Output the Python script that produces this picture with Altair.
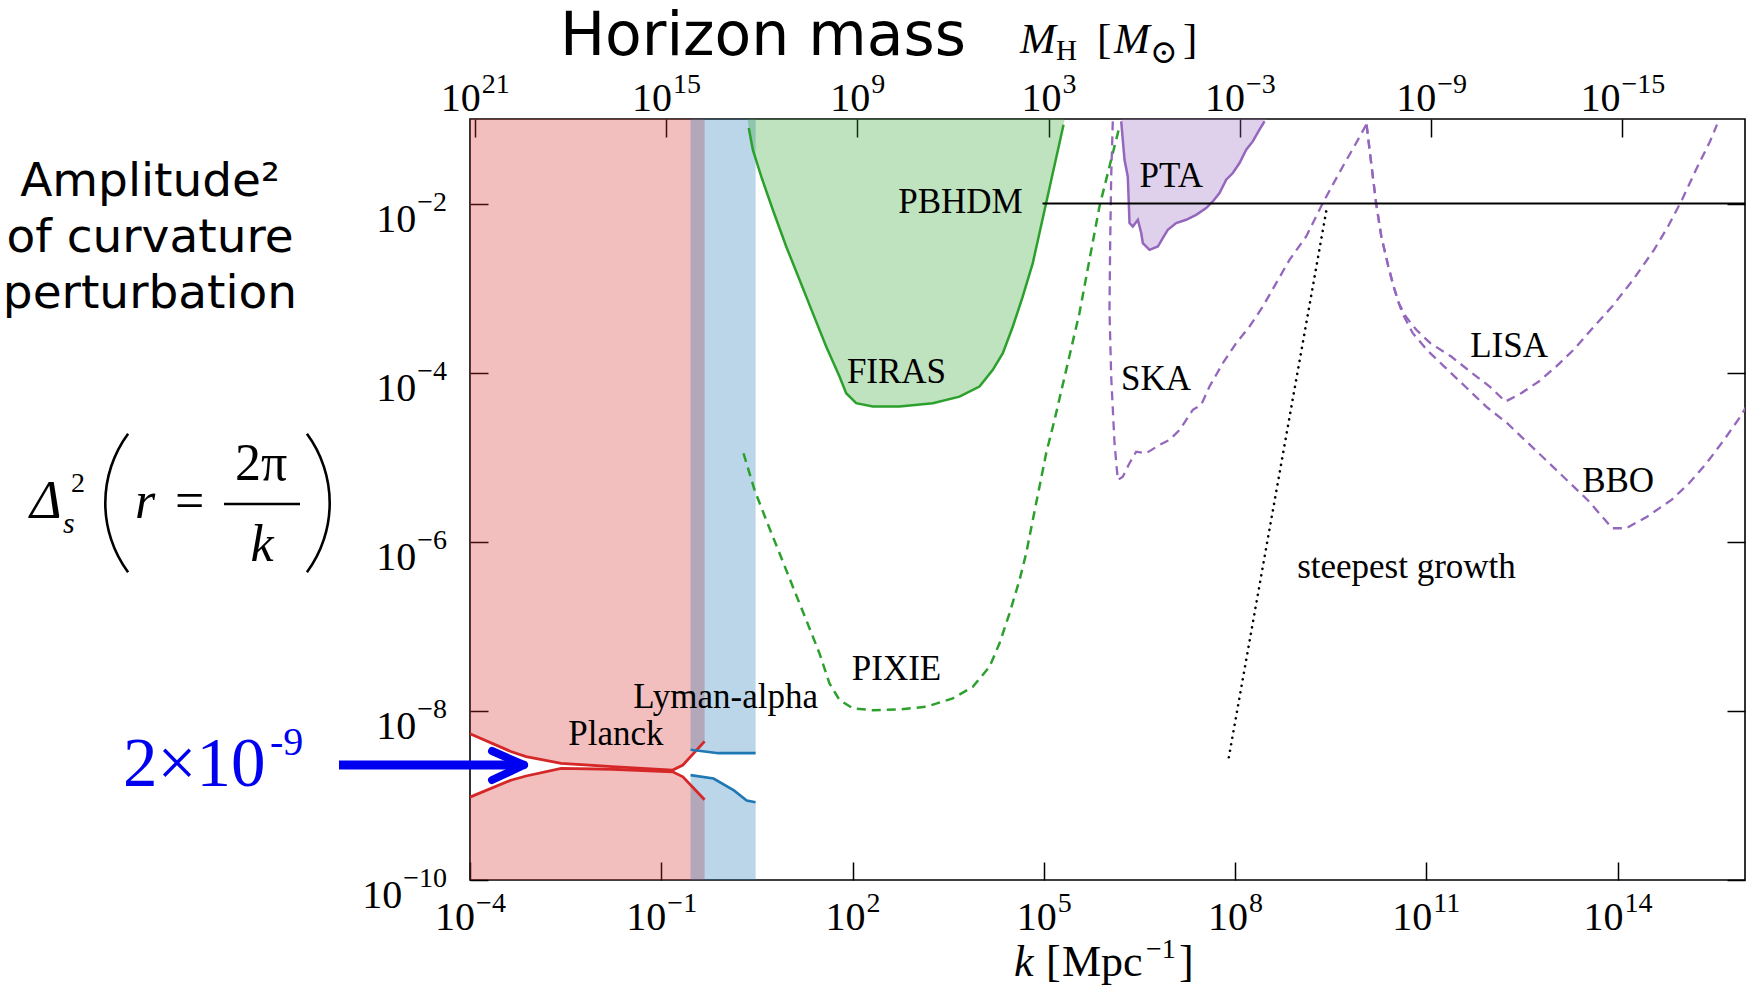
import altair as alt
import numpy as np
import pandas as pd

# ---------------- axes ----------------
K_DOMAIN = [1e-4, 1e16]
Y_DOMAIN = [1e-10, 1e-1]
M_DOMAIN = [10 ** 21.15, 10 ** -18.85]          # horizon mass at the k-domain ends
k_tick_exp = [-4, -1, 2, 5, 8, 11, 14]
y_tick_exp = [-10, -8, -6, -4, -2]
m_tick_exp = [21, 15, 9, 3, -3, -9, -15]

# ---------------- data (log10 k, log10 amplitude) ----------------
planck_logk = [-4.0, -3.36, -3.12, -2.57, -1.77, -0.82, -0.66, -0.32]
planck_upper = [-8.27, -8.48, -8.54, -8.62, -8.66, -8.70, -8.64, -8.36]
planck_lower = [-9.02, -8.82, -8.77, -8.68, -8.69, -8.72, -8.78, -9.05]

lya_up_logk = [-0.54, -0.10, 0.48]
lya_upper = [-8.46, -8.50, -8.50]
lya_lo_logk = [-0.54, -0.18, 0.14, 0.34, 0.48]
lya_lower = [-8.76, -8.80, -8.94, -9.06, -9.08]

firas_logk = [0.355, 0.373, 0.436, 0.568, 0.750, 0.960, 1.169, 1.377, 1.587, 1.796, 1.901,
              2.058, 2.319, 2.737, 3.260, 3.678, 3.992, 4.201, 4.358, 4.515, 4.671, 4.828,
              4.933, 5.038, 5.142, 5.247, 5.310, 5.33]
firas_y = [-1.0, -1.107, -1.363, -1.679, -2.073, -2.508, -2.902, -3.296, -3.691, -4.046, -4.243,
           -4.361, -4.401, -4.401, -4.361, -4.283, -4.164, -3.967, -3.769, -3.454, -3.099, -2.704,
           -2.349, -1.994, -1.639, -1.284, -1.067, -1.0]

pixie_logk = [0.290, 0.463, 0.646, 0.855, 1.064, 1.274, 1.482, 1.639, 1.796, 2.005, 2.319,
              2.737, 3.156, 3.573, 3.887, 4.149, 4.306, 4.463, 4.620, 4.725, 4.828, 4.933,
              5.038, 5.169, 5.561, 5.874, 6.188]
pixie_y = [-4.953, -5.387, -5.742, -6.136, -6.531, -6.925, -7.320, -7.675, -7.872, -7.970, -7.991,
           -7.982, -7.951, -7.852, -7.715, -7.478, -7.201, -6.846, -6.452, -6.136, -5.742, -5.348,
           -4.953, -4.559, -3.292, -2.034, -1.088]

pta_logk = [6.21, 6.215, 6.267, 6.318, 6.334, 6.345, 6.397, 6.476, 6.529, 6.554, 6.659, 6.790,
            6.867, 6.946, 7.077, 7.234, 7.391, 7.548, 7.652, 7.757, 7.862, 7.966, 8.071, 8.176,
            8.279, 8.384, 8.463, 8.49]
pta_y = [-1.0, -1.028, -1.482, -1.679, -1.994, -2.231, -2.271, -2.192, -2.349, -2.467, -2.547,
         -2.508, -2.408, -2.310, -2.231, -2.192, -2.133, -2.053, -1.975, -1.876, -1.718, -1.639,
         -1.521, -1.363, -1.265, -1.127, -1.028, -1.0]

ska_logk = [6.083, 6.058, 6.042, 6.031, 6.058, 6.110, 6.162, 6.240, 6.345, 6.450, 6.607, 6.816,
            6.973, 7.130, 7.338, 7.470, 7.600, 7.809, 8.019, 8.227, 8.436, 8.646, 8.855, 9.117,
            9.377, 9.691, 9.901, 10.058]
ska_y = [-1.028, -1.679, -2.467, -3.257, -4.046, -4.834, -5.269, -5.230, -5.071, -4.934, -4.953,
         -4.854, -4.795, -4.677, -4.440, -4.381, -4.164, -3.888, -3.651, -3.454, -3.218, -2.941,
         -2.665, -2.389, -1.994, -1.561, -1.284, -1.067]

lisa_logk = [10.064, 10.130, 10.213, 10.295, 10.405, 10.488, 10.570, 10.679, 10.844, 11.064,
             11.392, 11.721, 11.995, 12.242, 12.489, 12.764, 13.037, 13.311, 13.586, 13.915,
             14.244, 14.573, 14.792, 15.012, 15.231, 15.451, 15.561]
lisa_y = [-1.067, -1.482, -1.994, -2.389, -2.744, -2.981, -3.178, -3.336, -3.493, -3.651,
          -3.809, -4.006, -4.164, -4.342, -4.243, -4.105, -3.928, -3.730, -3.493, -3.218,
          -2.902, -2.547, -2.271, -1.955, -1.600, -1.265, -1.067]

bbo_logk = [10.064, 10.130, 10.213, 10.295, 10.405, 10.488, 10.570, 10.624, 10.789, 11.009,
            11.283, 11.611, 11.940, 12.270, 12.599, 12.929, 13.257, 13.531, 13.806, 13.915,
            14.135, 14.464, 14.847, 15.122, 15.395, 15.671, 15.891, 16.04]
bbo_y = [-1.067, -1.482, -1.994, -2.389, -2.744, -2.981, -3.178, -3.296, -3.533, -3.730,
         -3.928, -4.164, -4.401, -4.598, -4.834, -5.071, -5.308, -5.505, -5.742, -5.840,
         -5.840, -5.703, -5.505, -5.308, -5.071, -4.795, -4.559, -4.381]

steep_logk = [9.431, 7.903]
steep_y = [-2.093, -8.550]

pbhdm_logk = [4.98, 16.0]
pbhdm_y = [-2.0, -2.0]

# annotation labels inside the plot (log10 k, log10 y, text)
labels_center = [
    (2.69, -3.99, "FIRAS"), (2.69, -7.50, "PIXIE"), (0.01, -7.83, "Lyman-alpha"),
    (-1.71, -8.27, "Planck"), (7.00, -1.68, "PTA"), (6.76, -4.07, "SKA"),
    (12.30, -3.69, "LISA"), (14.01, -5.28, "BBO"), (10.69, -6.30, "steepest growth"),
]
labels_right = [(4.67, -1.98, "PBHDM")]

# ---------------- helpers ----------------
SERIF = "Liberation Serif"
SANS = "DejaVu Sans"
W, H = 1275, 761
FS_BASE, FS_EXP = 40, 28


def exp_text(e):
    return str(e).replace("-", "−")


def exp_width(e):
    return sum(0.564 * FS_EXP if c == "−" else 0.5 * FS_EXP for c in exp_text(e))


def curve(logk, logy):
    return pd.DataFrame({"k": np.power(10.0, logk), "y": np.power(10.0, logy),
                         "i": np.arange(len(logk))})


xs = alt.Scale(type="log", domain=K_DOMAIN, nice=False)
ys = alt.Scale(type="log", domain=Y_DOMAIN, nice=False)
ms = alt.Scale(type="log", domain=M_DOMAIN, nice=False)

axis_common = dict(grid=False, domain=False, tickSize=18, offset=-18, tickColor="black",
                   tickWidth=1.5, labels=False, title=None)

ax_x = alt.Axis(values=[10.0 ** e for e in k_tick_exp], **axis_common)
ax_y = alt.Axis(values=[10.0 ** e for e in y_tick_exp], **axis_common)


def XK(field="k"):
    return alt.X(f"{field}:Q", scale=xs, axis=ax_x)


def YK(field="y"):
    return alt.Y(f"{field}:Q", scale=ys, axis=ax_y)


layers = []

# ----- filled exclusion regions -----
def band_area(logk, logy, edge, color):
    d = curve(logk, logy)
    d["edge"] = edge
    return alt.Chart(d).mark_area(color=color, opacity=0.3, clip=True).encode(
        x=XK(), y=YK(), y2="edge:Q")

layers.append(band_area(planck_logk, planck_upper, 1e-1, "#d62728"))
layers.append(band_area(planck_logk, planck_lower, 1e-10, "#d62728"))
layers.append(band_area(lya_up_logk, lya_upper, 1e-1, "#1f77b4"))
layers.append(band_area(lya_lo_logk, lya_lower, 1e-10, "#1f77b4"))
layers.append(band_area(firas_logk, firas_y, 1e-1, "#2ca02c"))
layers.append(band_area(pta_logk, pta_y, 1e-1, "#9467bd"))


def line(logk, logy, color, width=2.2, dash=None, cap="butt"):
    kw = dict(color=color, strokeWidth=width, clip=True, strokeCap=cap)
    if dash:
        kw["strokeDash"] = dash
    return alt.Chart(curve(logk, logy)).mark_line(**kw).encode(
        x=XK(), y=YK(), order="i:Q")

layers.append(line(planck_logk, planck_upper, "#d62728", 2.8))
layers.append(line(planck_logk, planck_lower, "#d62728", 2.8))
layers.append(line(lya_up_logk, lya_upper, "#1f77b4", 2.6))
layers.append(line(lya_lo_logk, lya_lower, "#1f77b4", 2.6))
layers.append(line(firas_logk[1:-1], firas_y[1:-1], "#2ca02c", 2.5))
layers.append(line(pta_logk[1:-1], pta_y[1:-1], "#9467bd", 2.5))
layers.append(line(pixie_logk, pixie_y, "#2ca02c", 2.5, [9, 6]))
layers.append(line(ska_logk, ska_y, "#9467bd", 2.3, [9, 6]))
layers.append(line(lisa_logk, lisa_y, "#9467bd", 2.3, [9, 6]))
layers.append(line(bbo_logk, bbo_y, "#9467bd", 2.3, [9, 6]))
layers.append(line(steep_logk, steep_y, "black", 2.6, [0.1, 6.5], "round"))
layers.append(line(pbhdm_logk, pbhdm_y, "black", 2.0))

# ----- in-plot labels -----
lc = pd.DataFrame([{"k": 10 ** a, "y": 10 ** b, "t": t} for a, b, t in labels_center])
layers.append(alt.Chart(lc).mark_text(font=SERIF, fontSize=35, align="center",
                                      baseline="middle", color="black").encode(
    x=XK(), y=YK(), text="t:N"))
lr = pd.DataFrame([{"k": 10 ** a, "y": 10 ** b, "t": t} for a, b, t in labels_right])
layers.append(alt.Chart(lr).mark_text(font=SERIF, fontSize=35, align="right",
                                      baseline="middle", color="black").encode(
    x=XK(), y=YK(), text="t:N"))

# ----- tick labels "10" + exponent -----
for e in k_tick_exp:
    d = pd.DataFrame({"k": [10.0 ** e]})
    shift = (FS_BASE - exp_width(e)) / 2
    layers.append(alt.Chart(d).mark_text(font=SERIF, fontSize=FS_BASE, align="right",
                                         dx=shift, color="black").encode(
        x=XK(), y=alt.value(H + 38), text=alt.value("10")))
    layers.append(alt.Chart(d).mark_text(font=SERIF, fontSize=FS_EXP, align="left",
                                         dx=shift + 1, color="black").encode(
        x=XK(), y=alt.value(H + 24), text=alt.value(exp_text(e))))

for e in y_tick_exp:
    d = pd.DataFrame({"y": [10.0 ** e]})
    gap = 23
    layers.append(alt.Chart(d).mark_text(font=SERIF, fontSize=FS_BASE, align="right",
                                         dy=16, color="black").encode(
        x=alt.value(-gap - exp_width(e) - 1), y=YK(), text=alt.value("10")))
    layers.append(alt.Chart(d).mark_text(font=SERIF, fontSize=FS_EXP, align="right",
                                         dy=-1, color="black").encode(
        x=alt.value(-gap), y=YK(), text=alt.value(exp_text(e))))

# ----- annotations outside the plot (pixel offsets from the plot origin) -----
ONE = pd.DataFrame({"a": [0]})


def txt(x, y, text, size, font=SERIF, style="normal", align="left", color="black",
        baseline="alphabetic"):
    return alt.Chart(ONE).mark_text(font=font, fontSize=size, fontStyle=style, align=align,
                                    baseline=baseline, color=color).encode(
        x=alt.value(x), y=alt.value(y), text=alt.value(text))


def seg(x, y, x2, y2, color, width, cap="butt"):
    return alt.Chart(ONE).mark_rule(color=color, strokeWidth=width, strokeCap=cap).encode(
        x=alt.value(x), y=alt.value(y), x2=alt.value(x2), y2=alt.value(y2))


def paren(cx, cy, r, t0, t1):
    return alt.Chart(ONE).mark_arc(color="black").encode(
        x=alt.value(cx), y=alt.value(cy), radius=alt.value(r), radius2=alt.value(r - 2.6),
        theta=alt.value(t0), theta2=alt.value(t1))

# top title
layers.append(txt(293, -64, "Horizon mass", 60, font=SANS, align="center"))
layers.append(txt(550, -66, "M", 43, style="italic"))
layers.append(txt(586, -59, "H", 29))
layers.append(txt(627, -66, "[", 43))
layers.append(txt(644, -66, "M", 43, style="italic"))
layers.append(txt(680, -56, "⊙", 33, font="DejaVu Serif"))
layers.append(txt(713, -66, "]", 43))

# bottom title
layers.append(txt(544, 857, "k", 44, style="italic"))
layers.append(txt(576, 857, "[", 44))
layers.append(txt(592, 857, "Mpc", 44))
layers.append(txt(676, 839, "−1", 28))
layers.append(txt(709, 857, "]", 44))

# left label
layers.append(txt(-320, 77, "Amplitude²", 47, font=SANS, align="center"))
layers.append(txt(-320, 133, "of curvature", 47, font=SANS, align="center"))
layers.append(txt(-320, 189, "perturbation", 47, font=SANS, align="center"))

# formula Delta_s^2 ( r = 2pi / k )
layers.append(txt(-440, 399, "Δ", 54, style="italic"))
layers.append(txt(-399, 373, "2", 28))
layers.append(txt(-407, 414, "s", 30, style="italic"))
layers.append(paren(-248, 384, 118, 4.077, 5.348))
layers.append(txt(-335, 399, "r", 52, style="italic"))
layers.append(txt(-295, 399, "=", 52))
layers.append(seg(-246, 385, -170, 385, "black", 2.5))
layers.append(txt(-209, 361, "2π", 52, align="center"))
layers.append(txt(-208, 442, "k", 52, style="italic", align="center"))
layers.append(paren(-257, 384, 118, 0.9355, 2.206))

# blue 2x10^-9 marker
BLUE = "#0000f0"
layers.append(txt(-347, 667, "2×10", 69, color=BLUE))
layers.append(txt(-200, 636, "-9", 40, color=BLUE))
layers.append(seg(-131, 646, 50, 646, BLUE, 9))
layers.append(seg(22, 632, 54, 646, BLUE, 8, "round"))
layers.append(seg(22, 661, 54, 646, BLUE, 8, "round"))

inner = alt.layer(*layers)

# ----- secondary axes: horizon mass on top, ticks on the right -----
ax_top = alt.Axis(orient="top", values=[10.0 ** e for e in m_tick_exp], **axis_common)
ax_right = alt.Axis(orient="right", values=[10.0 ** e for e in y_tick_exp], **axis_common)
mt = pd.DataFrame({"M": [10.0 ** e for e in m_tick_exp], "y": [1e-5] * len(m_tick_exp)})
top_layers = [alt.Chart(mt).mark_point(opacity=0).encode(
    x=alt.X("M:Q", scale=ms, axis=ax_top),
    y=alt.Y("y:Q", scale=alt.Scale(type="log", domain=Y_DOMAIN, nice=False), axis=ax_right),
)]
for e in m_tick_exp:
    d = pd.DataFrame({"M": [10.0 ** e]})
    shift = (FS_BASE - exp_width(e)) / 2
    top_layers.append(alt.Chart(d).mark_text(font=SERIF, fontSize=FS_BASE, align="right",
                                             dx=shift, color="black").encode(
        x=alt.X("M:Q", scale=ms, axis=ax_top), y=alt.value(-20), text=alt.value("10")))
    top_layers.append(alt.Chart(d).mark_text(font=SERIF, fontSize=FS_EXP, align="left",
                                             dx=shift + 1, color="black").encode(
        x=alt.X("M:Q", scale=ms, axis=ax_top), y=alt.value(-34), text=alt.value(exp_text(e))))
top = alt.layer(*top_layers)

chart = (
    alt.layer(inner, top)
    .resolve_scale(x="independent", y="independent")
    .resolve_axis(x="independent", y="independent")
    .properties(width=W, height=H, autosize=alt.AutoSizeParams(type="none"),
                padding={"left": 470, "top": 119, "right": 3, "bottom": 114},
                background="white")
    .configure_view(stroke="black", strokeWidth=1.6)
)

chart.save("out.html", embed_options={"renderer": "svg", "actions": False})
